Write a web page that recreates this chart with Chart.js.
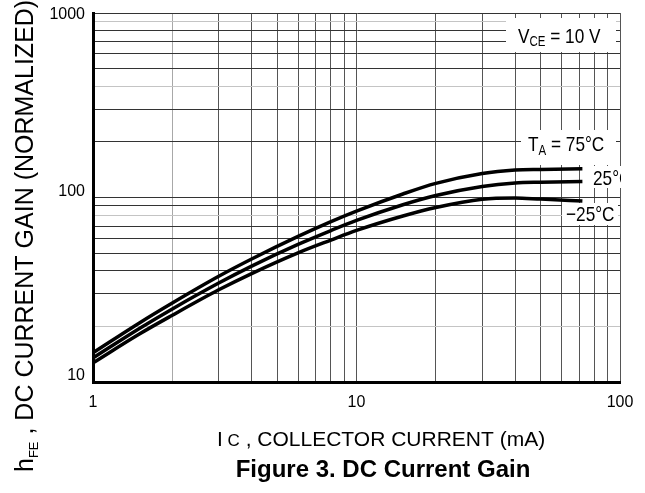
<!DOCTYPE html>
<html><head><meta charset="utf-8">
<script src="https://cdn.jsdelivr.net/npm/chart.js@4/dist/chart.umd.min.js"></script>
<style>html,body{margin:0;padding:0;background:#fff;}canvas{display:block;}</style>
</head><body>
<canvas id="c" width="645" height="493"></canvas>
<script>
// ---- data ----
const currentMA = [1, 1.5, 2, 3, 4, 6, 8, 10, 15, 20, 30, 40, 50, 72];
const hfe75  = [14.4, 20.9, 26.8, 37.4, 46.4, 61.5, 74, 84.4, 104.5, 119.3, 135, 141, 142, 143];
const hfe25  = [13.5, 19.5, 24.9, 34.4, 42.5, 55.7, 66.2, 75.1, 91.4, 102.6, 114.8, 119.9, 121, 122];
const hfeM25 = [12.7, 18.2, 23.0, 31.6, 38.7, 50.1, 58.8, 66.3, 79.4, 88.3, 97.9, 99.4, 98.0, 95.8];
const xTickLabels = ['1', '10', '100'];
const yTickLabels = ['10', '100', '1000'];
const xDecades = [1, 10];
const yDecades = [10, 100];

const FONT = '"Liberation Sans", Arial, Helvetica, sans-serif';

function gridValues(decades, last) {
  const v = [];
  decades.forEach(d => { for (let k = 1; k <= 9; k++) v.push(d * k); });
  v.push(last);
  return v;
}
const xGrid = gridValues(xDecades, 100);
const yGrid = gridValues(yDecades, 1000);
const yLight = [20, 80, 400, 900];
const xLight = [2];

function toPts(ys) { return currentMA.map((x, i) => ({x: x, y: ys[i]})); }

function drawRich(ctx, parts, x, y, sx) {
  ctx.save();
  ctx.translate(x, y);
  ctx.scale(sx || 1, 1);
  let cx = 0;
  parts.forEach(p => {
    ctx.font = (p.bold ? 'bold ' : '') + p.size + 'px ' + FONT;
    ctx.fillText(p.t, cx, p.dy || 0);
    cx += ctx.measureText(p.t).width;
  });
  ctx.restore();
}

const annot = {
  id: 'annot',
  beforeDatasetsDraw(chart) {
    const ctx = chart.ctx;
    ctx.save();
    ctx.fillStyle = '#fff';
    ctx.fillRect(506, 18, 110, 34);
    ctx.fillRect(521, 130, 95, 35);
    ctx.fillRect(589, 166, 40, 22);
    ctx.fillRect(562, 203, 56, 22);
    ctx.restore();
  },
  afterDatasetsDraw(chart) {
    const ctx = chart.ctx;
    ctx.save();
    ctx.fillStyle = '#000';
    ctx.textBaseline = 'alphabetic';
    drawRich(ctx, [{t:'V', size:21}, {t:'CE', size:14, dy:3}, {t:' = 10 V', size:21}], 518, 43, 0.82);
    drawRich(ctx, [{t:'T', size:21}, {t:'A', size:14, dy:4}, {t:' = 75°C', size:21}], 528, 151, 0.82);
    ctx.save();
    ctx.beginPath(); ctx.rect(0, 0, 621, 493); ctx.clip();
    drawRich(ctx, [{t:'25°C', size:21}], 593, 185, 0.82);
    ctx.restore();
    drawRich(ctx, [{t:'−25°C', size:21}], 566, 221, 0.82);

    // tick labels
    const xs = chart.scales.x, ys = chart.scales.y;
    ctx.font = '16px ' + FONT;
    ctx.textAlign = 'center';
    ctx.textBaseline = 'middle';
    xTickLabels.forEach(l => ctx.fillText(l, xs.getPixelForValue(Number(l)), 403));
    ctx.textAlign = 'right';
    yTickLabels.forEach(l => {
      const py = ys.getPixelForValue(Number(l));
      ctx.fillText(l, 85, Math.max(py - 6, 15));
    });

    // axis titles
    ctx.textAlign = 'left';
    ctx.textBaseline = 'alphabetic';
    drawRich(ctx, [{t:'I', size:21}, {t:' C', size:17}, {t:' , COLLECTOR CURRENT (mA)', size:21}], 217, 446, 1);
    ctx.textAlign = 'center';
    ctx.font = 'bold 24px ' + FONT;
    ctx.fillText('Figure 3. DC Current Gain', 383, 477);

    ctx.save();
    ctx.translate(33, 472);
    ctx.rotate(-Math.PI / 2);
    ctx.textAlign = 'left';
    drawRich(ctx, [{t:'h', size:25}, {t:'FE', size:13, dy:5}, {t:' , DC CURRENT GAIN (NORMALIZED)', size:25}], 0, 0, 1);
    ctx.restore();
    ctx.restore();
  }
};

const ds = (ys) => ({
  data: toPts(ys), borderColor: '#000', borderWidth: 3.5, pointRadius: 0,
  fill: false, cubicInterpolationMode: 'monotone'
});

new Chart(document.getElementById('c'), {
  type: 'line',
  data: { datasets: [ds(hfe75), ds(hfe25), ds(hfeM25)] },
  options: {
    responsive: false, animation: false, devicePixelRatio: 1,
    layout: { padding: { left: 93, top: 13, right: 25, bottom: 111 } },
    plugins: { legend: { display: false }, tooltip: { enabled: false }, title: { display: false } },
    scales: {
      x: {
        type: 'logarithmic', min: 1, max: 100,
        afterBuildTicks: s => { s.ticks = xGrid.map(v => ({value: v})); },
        ticks: { display: false },
        grid: { drawTicks: false, tickLength: 0, lineWidth: 1,
                color: c => (c.tick && xLight.includes(c.tick.value)) ? '#a8a8a8' : '#555' },
        border: { color: '#000', width: 3 }
      },
      y: {
        type: 'logarithmic', min: 10, max: 1000,
        afterBuildTicks: s => { s.ticks = yGrid.map(v => ({value: v})); },
        ticks: { display: false },
        grid: { drawTicks: false, tickLength: 0, lineWidth: 1,
                color: c => (c.tick && yLight.includes(c.tick.value)) ? '#c4c4c4' : '#333' },
        border: { color: '#000', width: 3 }
      }
    }
  },
  plugins: [annot]
});
</script>
</body></html>
